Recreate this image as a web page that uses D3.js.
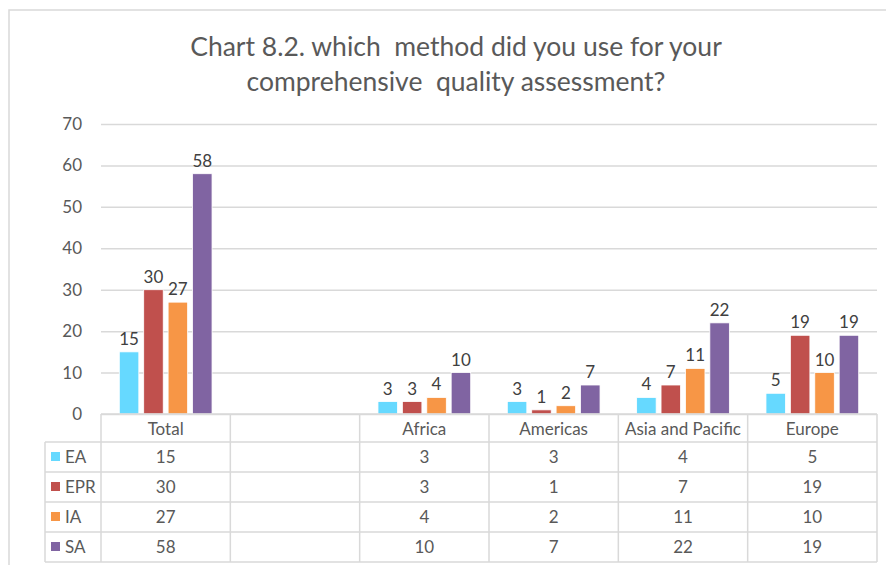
<!DOCTYPE html>
<html>
<head>
<meta charset="utf-8">
<script src="https://cdn.jsdelivr.net/npm/d3@7"></script>
<style>
  body { margin: 0; background: #fff; }
  svg { font-family: Lato, "Open Sans", sans-serif; }
</style>
</head>
<body>
<div id="chart"></div>
<script>
// chart data
const categories = ["Total", "", "Africa", "Americas", "Asia and Pacific", "Europe"];
const seriesNames = ["EA", "EPR", "IA", "SA"];
const EA  = [15, null, 3, 3, 4, 5];
const EPR = [30, null, 3, 1, 7, 19];
const IA  = [27, null, 4, 2, 11, 10];
const SA  = [58, null, 10, 7, 22, 19];
const yTicks = [0, 10, 20, 30, 40, 50, 60, 70];
const colors = ["#66D9FF", "#C0504D", "#F79646", "#8064A2"];

const seriesValues = [EA, EPR, IA, SA];

const W = 886, H = 565;
const plotLeft = 101, plotRight = 877, plotTop = 124, plotBottom = 414;
const rowH = 30, headerH = 28;
const fs = "17px";

const svg = d3.select("#chart").append("svg")
  .attr("width", W).attr("height", H);

// outer chart border
svg.append("rect")
  .attr("x", 9).attr("y", 10).attr("width", W + 10).attr("height", H)
  .attr("fill", "none").attr("stroke", "#d9d9d9").attr("stroke-width", 1.5);

// title
const title = svg.append("text")
  .attr("text-anchor", "middle")
  .attr("fill", "#595959")
  .style("font-size", "26.5px")
  .style("white-space", "pre");
title.append("tspan").attr("x", 456).attr("y", 56).text("Chart 8.2. which  method did you use for your");
title.append("tspan").attr("x", 456).attr("y", 91).text("comprehensive  quality assessment?");

const x = d3.scaleBand()
  .domain(d3.range(categories.length))
  .range([plotLeft, plotRight]);

const x1 = d3.scaleBand()
  .domain(seriesNames)
  .range([0, x.bandwidth()])
  .paddingInner(0.2)
  .paddingOuter(0.75);

const y = d3.scaleLinear()
  .domain([0, 70])
  .range([plotBottom, plotTop]);

// gridlines + y labels
const yAxis = svg.append("g")
  .attr("transform", `translate(${plotLeft},0)`)
  .call(d3.axisLeft(y).tickValues(yTicks).tickSize(-(plotRight - plotLeft)).tickPadding(19));
yAxis.select(".domain").remove();
yAxis.selectAll(".tick line").attr("stroke", "#d9d9d9").attr("stroke-width", 1.5);
yAxis.selectAll(".tick text")
  .attr("fill", "#595959")
  .style("font-size", fs)
  .style("font-family", "Lato, sans-serif");

// bars
seriesNames.forEach((s, si) => {
  const vals = seriesValues[si];
  const g = svg.append("g");
  categories.forEach((c, ci) => {
    const v = vals[ci];
    if (v == null) return;
    const bx = x(ci) + x1(s);
    g.append("rect")
      .attr("x", bx)
      .attr("y", y(v))
      .attr("width", x1.bandwidth())
      .attr("height", y(0) - y(v))
      .attr("fill", colors[si])
      .attr("stroke", "#fff")
      .attr("stroke-width", 0.8);
    g.append("text")
      .attr("x", bx + x1.bandwidth() / 2)
      .attr("y", y(v) - 7)
      .attr("text-anchor", "middle")
      .attr("fill", "#404040")
      .style("font-size", fs)
      .text(v);
  });
});

// data table
const tbl = svg.append("g");
const gridColor = "#d9d9d9";
const legendLeft = 45;
const tableBottom = plotBottom + headerH + rowH * seriesNames.length;

// header cells
categories.forEach((c, ci) => {
  tbl.append("text")
    .attr("x", x(ci) + x.bandwidth() / 2)
    .attr("y", plotBottom + 21)
    .attr("text-anchor", "middle")
    .attr("fill", "#595959")
    .style("font-size", fs)
    .text(c);
});

// rows
seriesNames.forEach((s, si) => {
  const ry = plotBottom + headerH + rowH * si;
  tbl.append("rect")
    .attr("x", legendLeft + 6).attr("y", ry + rowH / 2 - 5)
    .attr("width", 9).attr("height", 9)
    .attr("fill", colors[si]);
  tbl.append("text")
    .attr("x", legendLeft + 20).attr("y", ry + rowH / 2 + 6)
    .attr("fill", "#595959")
    .style("font-size", fs)
    .text(s);
  categories.forEach((c, ci) => {
    const v = seriesValues[si][ci];
    if (v == null) return;
    tbl.append("text")
      .attr("x", x(ci) + x.bandwidth() / 2)
      .attr("y", ry + rowH / 2 + 6)
      .attr("text-anchor", "middle")
      .attr("fill", "#595959")
      .style("font-size", fs)
      .text(v);
  });
});

// table grid lines
const hLines = [plotBottom];
for (let i = 0; i <= seriesNames.length; i++) hLines.push(plotBottom + headerH + rowH * i);
hLines.forEach((hy, i) => {
  tbl.append("line")
    .attr("x1", i === 0 ? plotLeft : legendLeft).attr("x2", plotRight)
    .attr("y1", hy).attr("y2", hy)
    .attr("stroke", gridColor).attr("stroke-width", 1.5);
});
d3.range(categories.length + 1).forEach(ci => {
  const vx = ci < categories.length ? x(ci) : plotRight;
  tbl.append("line")
    .attr("x1", vx).attr("x2", vx)
    .attr("y1", plotBottom).attr("y2", tableBottom)
    .attr("stroke", gridColor).attr("stroke-width", 1.5);
});
tbl.append("line")
  .attr("x1", legendLeft).attr("x2", legendLeft)
  .attr("y1", plotBottom + headerH).attr("y2", tableBottom)
  .attr("stroke", gridColor).attr("stroke-width", 1.5);
</script>
</body>
</html>
